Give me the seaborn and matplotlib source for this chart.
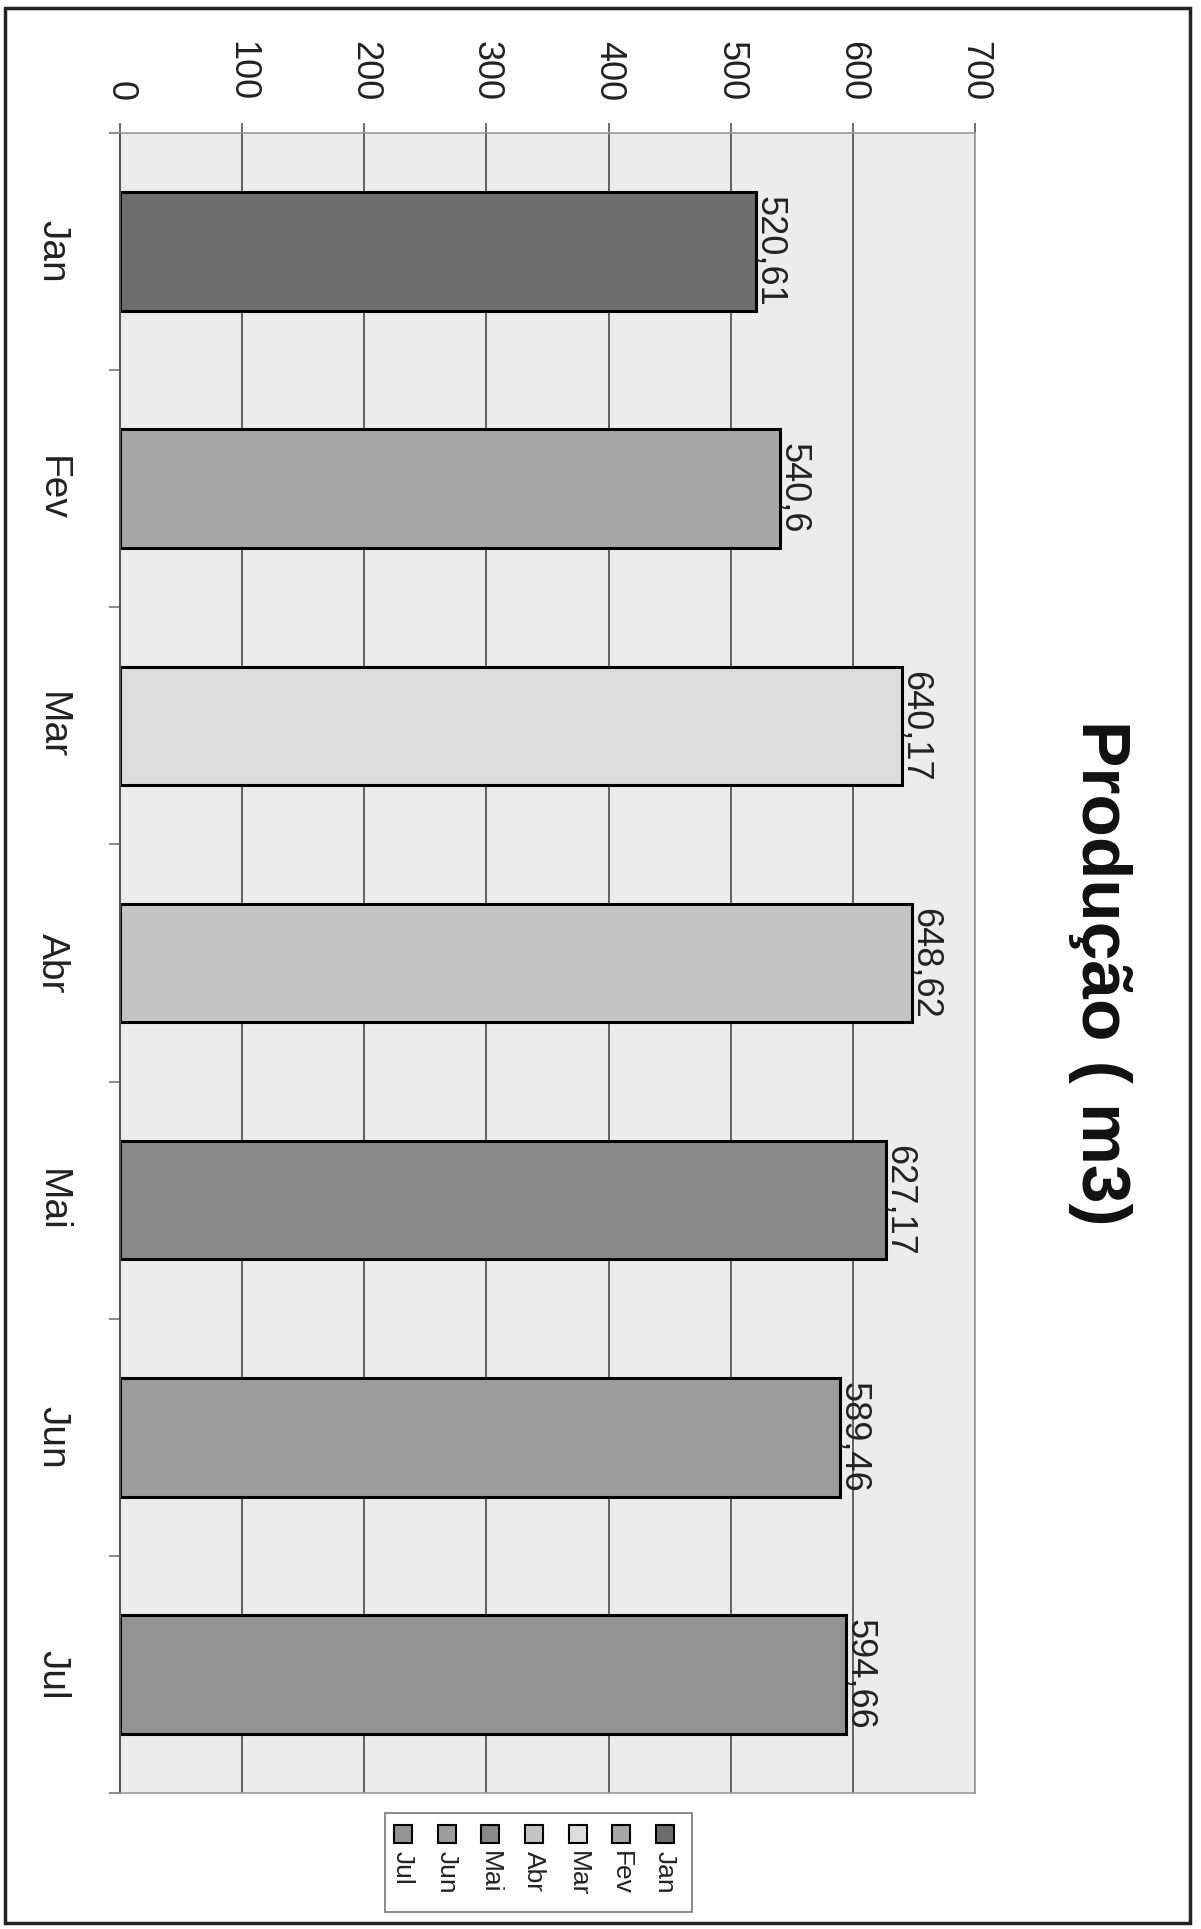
import matplotlib
matplotlib.use("Agg")
import matplotlib.pyplot as plt
import matplotlib.patches as mpatches
import pandas as pd
import seaborn as sns

# dados do gráfico
meses = ["Jan", "Fev", "Mar", "Abr", "Mai", "Jun", "Jul"]
producao = [520.61, 540.6, 640.17, 648.62, 627.17, 589.46, 594.66]
rotulos = ["520,61", "540,6", "640,17", "648,62", "627,17", "589,46", "594,66"]
cores = ["#6e6e6e", "#a6a6a6", "#dcdcdc", "#c4c4c4", "#8a8a8a", "#9c9c9c", "#939393"]
ticks_valor = [0, 100, 200, 300, 400, 500, 600, 700]
titulo = "Produção ( m3)"

W, H = 1201, 1929


def fx(px):
    return px / W


def fy(py):
    return 1 - py / H


sns.set_theme(style="white")
plt.rcParams["font.family"] = ["Liberation Sans", "DejaVu Sans"]

fig = plt.figure(figsize=(W / 100, H / 100), dpi=100)
fig.patch.set_facecolor("white")

# plot area (the chart is drawn turned by 90 degrees, like the scanned page)
left, right, top, bottom = 120, 975, 133, 1793
ax = fig.add_axes([fx(left), fy(bottom), fx(right - left), (bottom - top) / H])
ax.set_facecolor("#ececec")

df = pd.DataFrame({"mes": meses, "valor": producao})
sns.barplot(data=df, x="valor", y="mes", orient="h", color="#888888",
            width=0.5, saturation=1, edgecolor="black", linewidth=2.2, ax=ax)
for patch, c in zip(ax.patches, cores):
    patch.set_facecolor(c)

ax.set_xlim(0, 700)
ax.set_ylim(6.5, -0.5)
ax.set_xlabel("")
ax.set_ylabel("")

# value axis on top, labels turned
ax.xaxis.tick_top()
ax.set_xticks(ticks_valor)
ax.set_xticklabels([str(t) for t in ticks_valor], rotation=-90, fontsize=26)
ax.tick_params(axis="x", which="major", top=True, bottom=False, length=7,
               width=1.2, color="#555555", pad=16, labelcolor="#222222")

# category axis
ax.set_yticks(range(len(meses)))
ax.set_yticklabels(meses, rotation=-90, fontsize=28, va="center", ha="right")
ax.set_yticks([i - 0.5 for i in range(len(meses) + 1)], minor=True)
ax.tick_params(axis="y", which="major", left=True, length=0, pad=36,
               labelcolor="#222222")
ax.tick_params(axis="y", which="minor", left=True, length=8, width=1.2,
               color="#777777")

ax.grid(axis="x", color="#555555", linewidth=1.3)
ax.grid(axis="y", visible=False)
ax.set_axisbelow(True)

for side in ["top", "bottom", "right"]:
    ax.spines[side].set_color("#999999")
    ax.spines[side].set_linewidth(1.2)
ax.spines["left"].set_color("#555555")
ax.spines["left"].set_linewidth(1.5)

# value labels at the bar ends
ax.bar_label(ax.containers[0], labels=rotulos, rotation=-90, padding=-3,
             fontsize=26, color="#222222")

# title
fig.text(fx(1100), fy(973), titulo, rotation=-90, fontsize=50,
         fontweight="bold", ha="center", va="center", color="#111111")

# legend, turned like the rest
box = mpatches.Rectangle((fx(385), fy(1912)), fx(692 - 385), (1912 - 1813) / H,
                         transform=fig.transFigure, fill=False,
                         edgecolor="#777777", linewidth=1.2)
fig.add_artist(box)
step = 43.7
for i, (mes, c) in enumerate(zip(meses, cores)):
    xc = 665 - step * i
    sq = mpatches.Rectangle((fx(xc - 9), fy(1843)), fx(18), 18 / H,
                            transform=fig.transFigure, facecolor=c,
                            edgecolor="black", linewidth=1.5)
    fig.add_artist(sq)
    fig.text(fx(xc), fy(1851), mes, rotation=-90, fontsize=19,
             ha="center", va="top", color="#222222")

# outer frame of the page chart
frame = mpatches.Rectangle((fx(5), fy(1923)), fx(1190 - 5), (1923 - 8) / H,
                           transform=fig.transFigure, fill=False,
                           edgecolor="#222222", linewidth=2.5)
fig.add_artist(frame)

fig.savefig("out.png", dpi=100)
